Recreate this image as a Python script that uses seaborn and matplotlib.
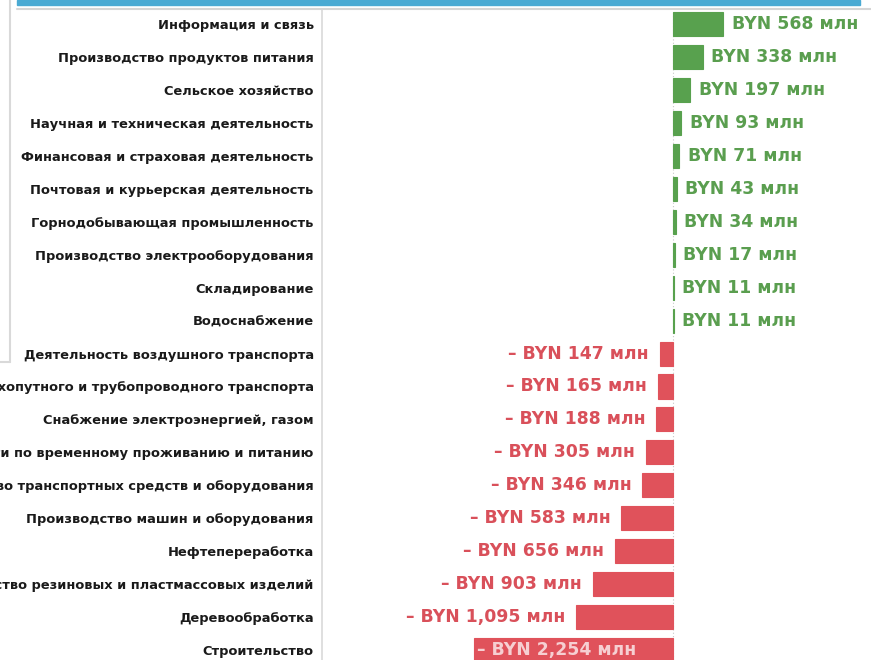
import matplotlib
matplotlib.use("Agg")
import matplotlib.pyplot as plt
import seaborn as sns
import pandas as pd
from matplotlib.patches import Rectangle
from matplotlib.lines import Line2D

categories = [
    "Информация и связь",
    "Производство продуктов питания",
    "Сельское хозяйство",
    "Научная и техническая деятельность",
    "Финансовая и страховая деятельность",
    "Почтовая и курьерская деятельность",
    "Горнодобывающая промышленность",
    "Производство электрооборудования",
    "Складирование",
    "Водоснабжение",
    "Деятельность воздушного транспорта",
    "Деятельность сухопутного и трубопроводного транспорта",
    "Снабжение электроэнергией, газом",
    "Услуги по временному проживанию и питанию",
    "Производство транспортных средств и оборудования",
    "Производство машин и оборудования",
    "Нефтепереработка",
    "Производство резиновых и пластмассовых изделий",
    "Деревообработка",
    "Строительство",
]
values = [568, 338, 197, 93, 71, 43, 34, 17, 11, 11,
          -147, -165, -188, -305, -346, -583, -656, -903, -1095, -2254]

GREEN = "#58a14e"
GREEN_TXT = "#5a9e4f"
RED = "#e0525b"
RED_TXT = "#d9505a"

df = pd.DataFrame({"cat": categories, "val": values})
df["sign"] = ["pos" if v >= 0 else "neg" for v in values]

sns.set_theme(style="white")
plt.rcParams["font.family"] = ["DejaVu Sans"]

fig = plt.figure(figsize=(8.71, 6.6), dpi=100)
ax = fig.add_axes([322 / 871, 0.0, 1 - 322 / 871, 1 - 10 / 660])

sns.barplot(data=df, x="val", y="cat", hue="sign", orient="h",
            palette={"pos": GREEN, "neg": RED}, dodge=False, width=0.73,
            legend=False, ax=ax, saturation=1)
for p in ax.patches:
    p.set_edgecolor(p.get_facecolor())
    p.set_linewidth(0.8)

ax.set_xlim(-3966, 2237)
ax.set_ylim(19.30, -0.425)
ax.set_xlabel("")
ax.set_ylabel("")
ax.set_xticks([])
for s in ["top", "right", "bottom"]:
    ax.spines[s].set_visible(False)
ax.spines["left"].set_color("#d9d9d9")
ax.spines["left"].set_linewidth(1.2)
ax.tick_params(axis="y", length=0, pad=6)
for t in ax.get_yticklabels():
    t.set_fontsize(9.4)
    t.set_fontweight("bold")
    t.set_color("#1a1a1a")

ax.axvline(0, color="#c8c8c8", lw=0.8, ls=(0, (1, 2)), zorder=0)

for i, v in enumerate(values):
    if v >= 0:
        ax.annotate(f"BYN {v:,} млн", (v, i), xytext=(6, 0),
                    textcoords="offset points", ha="left", va="center",
                    fontsize=12.4, fontweight="bold", color=GREEN_TXT)
    elif v == min(values):
        ax.annotate(f"– BYN {abs(v):,} млн", (v, i), xytext=(2.5, 0),
                    textcoords="offset points", ha="left", va="center",
                    fontsize=12.4, fontweight="bold", color="#f6cfd2")
    else:
        ax.annotate(f"– BYN {abs(v):,} млн", (v, i), xytext=(-8, 0),
                    textcoords="offset points", ha="right", va="center",
                    fontsize=12.4, fontweight="bold", color=RED_TXT)

W, H = 871, 660
fig.patches.append(Rectangle((17 / W, 1 - 5 / H), (860 - 17) / W, 5 / H,
                             transform=fig.transFigure, color="#4aaad3", zorder=5))
fig.lines.append(Line2D([17 / W, 1], [1 - 8.5 / H, 1 - 8.5 / H],
                        transform=fig.transFigure, color="#d5d5d5", lw=1.5))
fig.lines.append(Line2D([9.5 / W, 9.5 / W], [1, 1 - 362 / H],
                        transform=fig.transFigure, color="#d9d9d9", lw=1.5))
fig.lines.append(Line2D([0, 9.5 / W], [1 - 362 / H, 1 - 362 / H],
                        transform=fig.transFigure, color="#d9d9d9", lw=1.5))

fig.savefig("out.png", dpi=100)
